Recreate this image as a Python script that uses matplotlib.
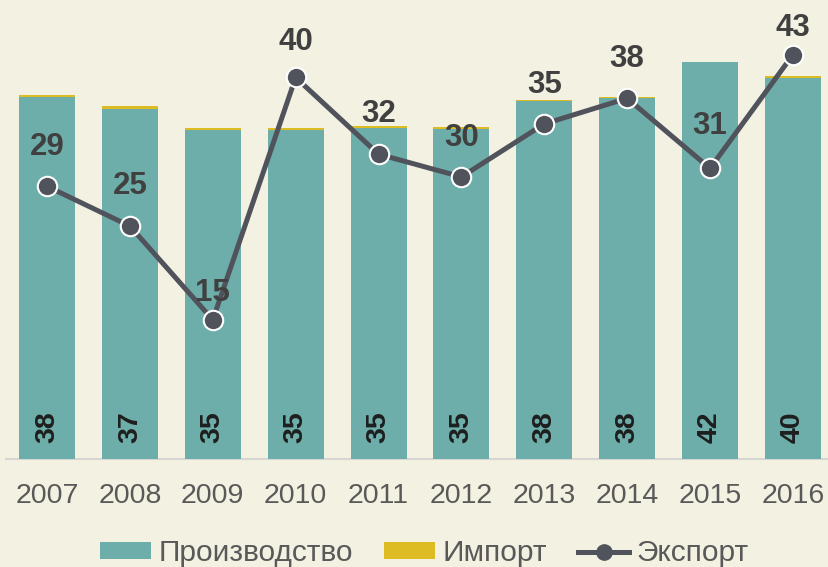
import matplotlib
matplotlib.use("Agg")
import matplotlib.pyplot as plt
from matplotlib.lines import Line2D
from matplotlib.patches import Patch
import numpy as np

years = ["2007", "2008", "2009", "2010", "2011", "2012", "2013", "2014", "2015", "2016"]
production = [38.2, 37.0, 34.8, 34.8, 35.0, 34.9, 37.8, 38.1, 41.9, 40.2]
imports = [0.25, 0.25, 0.2, 0.15, 0.15, 0.2, 0.1, 0.1, 0.0, 0.25]
exports = [28.8, 24.6, 14.7, 40.3, 32.2, 29.8, 35.4, 38.1, 30.7, 42.7]

bg = "#f3f1e1"
teal = "#6eaeaa"
yellow = "#dcbc22"
line_col = "#50535b"

plt.rcParams["font.family"] = ["Liberation Sans", "DejaVu Sans"]

fig = plt.figure(figsize=(8.29, 5.67), dpi=100, facecolor=bg)
ax = fig.add_axes([0.0068, 0.1905, 0.9996, 0.7513])
ax.set_facecolor(bg)

x = np.arange(len(years))
ax.bar(x, production, width=0.675, color=teal, zorder=2)
ax.bar(x, imports, width=0.675, bottom=production, color=yellow, zorder=2)
ax.plot(x, exports, color=line_col, lw=3.6, marker="o", markersize=14,
        markerfacecolor=line_col, markeredgecolor="white", markeredgewidth=1.5, zorder=4)

# production values inside the bars, rotated
for xi, v in zip(x, production):
    ax.text(xi, 3.4, f"{round(v)}", rotation=90, ha="center", va="center",
            fontsize=20.5, fontweight="bold", color="#1e1e1e", zorder=3)

# export labels above markers (offsets in px)
offsets = [39, 40, 27, 35, 40, 39, 39, 39, 42, 27]
for xi, v, off in zip(x, exports, offsets):
    ax.annotate(f"{round(v)}", (xi, v), xytext=(0, off * 0.72), textcoords="offset points",
                ha="center", va="center", fontsize=22.5, fontweight="bold",
                color="#404040", zorder=5)

ax.set_xlim(-0.5, 9.5)
ax.set_ylim(0, 45)
ax.set_xticks(x)
ax.set_xticklabels(years, fontsize=20.5, color="#595959")
ax.tick_params(axis="x", length=0, pad=17)
ax.set_yticks([])
for s in ["top", "right", "left"]:
    ax.spines[s].set_visible(False)
ax.spines["bottom"].set_color("#d6d6d2")
ax.spines["bottom"].set_linewidth(1.5)
ax.spines["bottom"].set_zorder(1)

handles = [
    Patch(facecolor=teal, label="Производство"),
    Patch(facecolor=yellow, label="Импорт"),
    Line2D([0], [0], color=line_col, lw=3.6, marker="o", markersize=11,
           markerfacecolor=line_col, markeredgecolor=line_col, label="Экспорт"),
]
leg = fig.legend(handles=handles, loc="center", bbox_to_anchor=(0.512, 0.024), ncol=3,
                 frameon=False, fontsize=21.5, handlelength=1.7, handleheight=0.5,
                 handletextpad=0.25, columnspacing=1.05, labelcolor="#595959")

fig.savefig("out.png", dpi=100, facecolor=bg)
